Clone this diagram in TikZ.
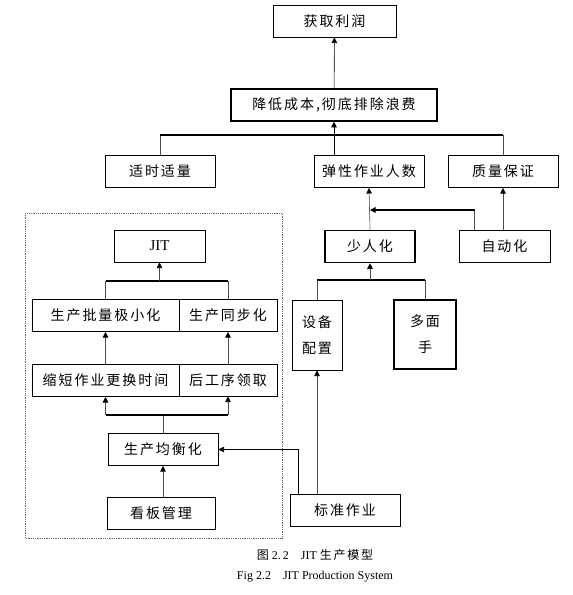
\documentclass[tikz,border=0pt]{standalone}
\usepackage{fontspec}
\setmainfont{Liberation Serif}
\newfontfamily\cjk[LetterSpace=14]{Noto Sans CJK SC}
\usetikzlibrary{positioning,arrows.meta,calc}
\tikzset{
  box/.style={draw, line width=1pt, minimum width=#1, minimum height=32pt,
              inner sep=0pt, align=center, font=\cjk\fontsize{14}{26}\selectfont},
  box/.default=110pt,
  bbox/.style={box=#1, line width=1.6pt},
  stem/.style={line width=0.6pt, gray!60!black},
  bus/.style={line width=1.3pt, black},
  arr/.style={-{Triangle[length=5.5pt,width=5.5pt,color=black]}, line width=0.6pt},
  frame/.style={densely dotted, line width=0.8pt, gray!80!black},
  captxt/.style={font=\fontsize{12}{14}\selectfont}
}
\begin{document}
\begin{tikzpicture}[x=1pt,y=-1pt]
  \useasboundingbox (0,0) rectangle (573,595);
  % goals
  \node[box=123pt] (profit) at (334.5,21) {获取利润};
  \node[bbox=206pt] (cost) at (334,105) {降低成本,彻底排除浪费};
  \node[box] (jitq) at (160,171.5) {适时适量};
  \node[box] (flex) at (369,171.5) {弹性作业人数};
  \node[box] (qual) at (503,171.5) {质量保证};
  % JIT block
  \draw[frame] (25,213) rectangle (282,538);
  \node[box=91pt, font=\fontsize{15}{17}\selectfont] (jit) at (159.5,246) {JIT};
  \node[box=147pt] (lot) at (105.5,315.5) {生产批量极小化};
  \node[box=98pt] (sync) at (228,315.5) {生产同步化};
  \node[box=147pt] (setup) at (105.5,380.5) {缩短作业更换时间};
  \node[box=98pt] (pull) at (228,380) {后工序领取};
  \node[box] (level) at (163,449.5) {生产均衡化};
  \node[box=108pt] (kanban) at (161,513) {看板管理};
  % people and machines
  \node[bbox=90pt] (few) at (370,246.5) {少人化};
  \node[box=91pt] (auto) at (504.5,246) {自动化};
  \node[box=50pt, minimum height=70pt] (layout) at (317,335) {设备\\配置};
  \node[bbox=62pt, minimum height=69pt] (multi) at (425,334.5) {多面\\手};
  \node[box] (std) at (345,510) {标准作业};
  % captions
  \node[captxt] (capcn) at (315,555) {{\cjk 图} 2.\,2\quad JIT {\cjk 生产模型}};
  \node[captxt] (capen) at (315,577) {Fig 2.2\quad JIT Production System};

  % top tier
  \draw[arr, stem, black] (cost) -- (profit);
  \draw[stem] (jitq.north) -- (jitq.north |- 0,135);
  \draw[stem] (qual.north) -- (qual.north |- 0,135);
  \draw[bus] (jitq.north |- 0,135) -- (qual.north |- 0,135);
  \draw[arr, stem, black] (cost.south |- flex.north) -- (cost.south);
  % flexible workforce
  \draw[arr, stem] (few.north) -- (flex.south);
  \draw[arr, stem] (auto.north -| qual.south) -- (qual.south);
  \draw[stem] ([xshift=-30pt]auto.north) -- ([xshift=-30pt]auto.north |- 0,210);
  \draw[arr, bus] ([xshift=-30pt]auto.north |- 0,210) -- (few.north |- 0,210);
  \draw[stem] (layout.north) -- (layout.north |- 0,280);
  \draw[stem] (multi.north) -- (multi.north |- 0,280);
  \draw[bus] (layout.north |- 0,280) -- (multi.north |- 0,280);
  \draw[arr, stem] (few.south |- 0,280) -- (few.south);
  % JIT pillars
  \draw[stem] (lot.north) -- (lot.north |- 0,281);
  \draw[stem] (sync.north) -- (sync.north |- 0,281);
  \draw[bus] (lot.north |- 0,281) -- (sync.north |- 0,281);
  \draw[arr, stem] (jit.south |- 0,281) -- (jit.south);
  \draw[arr, stem] (setup) -- (lot);
  \draw[arr, stem] (pull) -- (sync);
  \draw[stem] (level.north) -- (level.north |- 0,415);
  \draw[bus] (setup.south |- 0,415) -- (pull.south |- 0,415);
  \draw[arr, stem] (setup.south |- 0,415) -- (setup.south);
  \draw[arr, stem] (pull.south |- 0,415) -- (pull.south);
  \draw[arr, stem] (kanban.north -| level.south) -- (level.south);
  % standard work
  \draw[arr, stem, black] ([xshift=9pt]std.north west) |- (level.east);
  \draw[arr, stem] (std.north -| layout.south) -- (layout.south);
\end{tikzpicture}
\end{document}
